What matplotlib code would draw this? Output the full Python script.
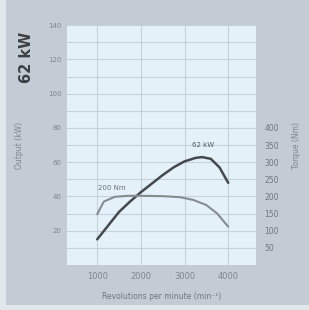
import matplotlib
matplotlib.use("Agg")
import matplotlib.pyplot as plt
from matplotlib.patches import Rectangle

# engine curves
rpm_power = [1000, 1250, 1500, 1750, 2000, 2250, 2500, 2750, 3000, 3250, 3400, 3600, 3800, 4000]
power_kw = [15, 23, 31, 37, 42.5, 47.5, 52.5, 57, 60.5, 62.5, 63, 62, 57, 48]

rpm_torque = [1000, 1150, 1400, 1700, 2000, 2500, 2900, 3200, 3500, 3750, 4000]
torque_nm = [148, 185, 199, 202, 202, 201, 198, 190, 175, 150, 112]

kw_ticks = [20, 40, 60, 80, 100, 120, 140]
nm_ticks = [50, 100, 150, 200, 250, 300, 350, 400]
rpm_ticks = [1000, 2000, 3000, 4000]

panel = "#c3ccd4"
plot_bg = "#e4f1f9"
grid_col = "#c3d3de"
label_col = "#7d858d"

fig = plt.figure(figsize=(3.09, 3.10), dpi=100, facecolor="#e2e7ec")
fig.patches.append(Rectangle((0.018, 0.015), 0.982, 0.985, transform=fig.transFigure,
                             facecolor=panel, edgecolor="none", zorder=-10))

ax = fig.add_axes([0.217, 0.145, 0.612, 0.774])
ax.set_facecolor(plot_bg)
ax.set_xlim(310, 4640)
ax.set_ylim(0, 140)
ax.set_yticks(kw_ticks)
ax.set_yticks(range(10, 140, 20), minor=True)
ax.set_xticks(rpm_ticks)
ax.grid(True, which="both", color=grid_col, linewidth=0.8)
ax.set_axisbelow(True)
ax.tick_params(which="both", length=0)
ax.tick_params(axis="y", labelsize=5, labelcolor=label_col, pad=4)
ax.tick_params(axis="x", labelsize=6, labelcolor=label_col, pad=5)
for s in ax.spines.values():
    s.set_visible(False)

ax.plot(rpm_power, power_kw, color="#45494e", linewidth=1.8, solid_capstyle="round", zorder=3)

ax2 = ax.twinx()
ax2.set_ylim(0, 700)
ax2.set_yticks(nm_ticks)
ax2.tick_params(length=0, labelsize=5.5, labelcolor="#6f767d", pad=6)
for s in ax2.spines.values():
    s.set_visible(False)
ax2.plot(rpm_torque, torque_nm, color="#858b91", linewidth=1.5, solid_capstyle="round", zorder=3)

ax.text(3430, 70, "62 kW", fontsize=5, color="#55595e", ha="center", va="center")
ax.text(1330, 45, "200 Nm", fontsize=5, color="#6a7076", ha="center", va="center")

ax.set_ylabel("Output (kW)", fontsize=5.5, color=label_col, labelpad=17)
ax2.set_ylabel("Torque (Nm)", fontsize=5.5, color=label_col, rotation=90, labelpad=9)
ax.set_xlabel("Revolutions per minute (min\u207b\u00b9)", fontsize=5.5, color="#6f767d", labelpad=8)

fig.text(0.085, 0.815, "62 kW", rotation=90, fontsize=10.5, fontweight="bold",
         color="#3c4045", ha="center", va="center")

fig.savefig("out.png", dpi=100, facecolor=fig.get_facecolor())
